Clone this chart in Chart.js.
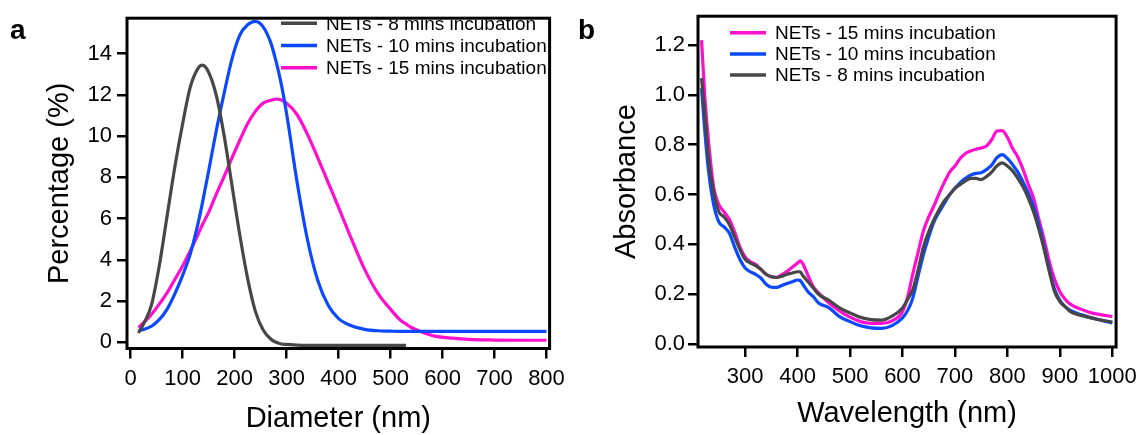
<!DOCTYPE html>
<html>
<head>
<meta charset="utf-8">
<script src="https://cdn.jsdelivr.net/npm/chart.js@4.4.0/dist/chart.umd.min.js"></script>
<style>
    body { margin: 0; background: #fff; width: 1144px; height: 435px; overflow: hidden; position: relative; font-family: "Liberation Sans", Arial, sans-serif; }
    .panel { position: absolute; top: 0; width: 572px; height: 435px; }
    .panel canvas { display: block; }
    #panelA { left: 0; }
    #panelB { left: 572px; }
    .tag { position: absolute; font-weight: bold; font-size: 28px; line-height: 1; color: #000; }
</style>
</head>
<body>
<div class="panel" id="panelA"><canvas id="chartA" width="572" height="435"></canvas></div>
<div class="panel" id="panelB"><canvas id="chartB" width="572" height="435"></canvas></div>
<div class="tag" style="left:10px; top:16px;">a</div>
<div class="tag" style="left:578px; top:16px;">b</div>
<script>
// panel a - size distribution
var diameters = [15, 25, 40, 55, 70, 85, 100, 115, 130, 138, 150, 165, 180, 195, 210, 225, 240, 255, 270, 280, 290,
    300, 320, 340, 360, 380, 400, 425, 450, 475, 500, 520, 530, 540, 560, 585, 620, 650, 700, 750, 800];
var pct8 = [0.45, 0.9, 1.8, 3.7, 6.1, 8.5, 10.6, 12.4, 13.3, 13.44, 13.1, 11.95, 10.0, 7.6, 5.2, 3.1, 1.5, 0.6, 0.15, 0.0, -0.08,
    -0.1, -0.14, -0.15, -0.15, -0.15, -0.15, -0.15, -0.15, -0.15, -0.15, -0.15, -0.15, null, null, null, null, null, null, null, null];
var pct10 = [0.57, 0.62, 0.78, 1.1, 1.6, 2.35, 3.25, 4.3, 5.8, 6.75, 8.3, 10.3, 12.1, 13.75, 14.9, 15.4, 15.57, 15.3, 14.5, 13.6, 12.5,
    11.1, 7.8, 5.0, 3.0, 1.8, 1.15, 0.8, 0.63, 0.56, 0.54, 0.53, 0.53, 0.53, 0.53, 0.53, 0.53, 0.53, 0.53, 0.53, 0.53];
var pct15 = [0.72, 0.95, 1.35, 1.85, 2.4, 3.05, 3.7, 4.45, 5.25, 5.7, 6.3, 7.2, 8.05, 8.95, 9.8, 10.6, 11.2, 11.6, 11.74, 11.8, 11.75,
    11.6, 11.05, 10.1, 8.95, 7.75, 6.55, 5.0, 3.55, 2.4, 1.6, 1.05, 0.88, 0.72, 0.5, 0.3, 0.2, 0.14, 0.11, 0.1, 0.1];
var diameterTicks = [0, 100, 200, 300, 400, 500, 600, 700, 800];
var pctTicks = [0, 2, 4, 6, 8, 10, 12, 14];

// panel b - absorbance spectra
var wavelengths = [217, 223, 230, 240, 250, 260, 270, 280, 290, 300, 310, 320, 330, 340, 350, 360, 370, 380, 390, 400,
    405, 410, 420, 430, 440, 460, 480, 500, 520, 540, 560, 580, 600, 610, 620, 630, 640, 650, 660, 670,
    680, 690, 700, 710, 720, 730, 740, 750, 760, 770, 780, 790, 800, 810, 820, 830, 840, 850, 860, 870,
    880, 890, 900, 910, 920, 940, 960, 980, 1000];
var abs15 = [1.22, 1.0, 0.82, 0.63, 0.56, 0.53, 0.5, 0.45, 0.39, 0.35, 0.33, 0.32, 0.3, 0.28, 0.27, 0.268, 0.278, 0.292, 0.308, 0.325,
    0.334, 0.322, 0.275, 0.23, 0.205, 0.165, 0.133, 0.108, 0.09, 0.083, 0.083, 0.093, 0.13, 0.19, 0.285, 0.37, 0.455, 0.51, 0.555, 0.605,
    0.65, 0.69, 0.715, 0.745, 0.765, 0.775, 0.782, 0.787, 0.795, 0.82, 0.855, 0.857, 0.83, 0.785, 0.75, 0.7, 0.64, 0.585, 0.5, 0.42,
    0.33, 0.26, 0.21, 0.18, 0.16, 0.14, 0.125, 0.117, 0.11];
var abs10 = [1.027, 0.86, 0.7, 0.56, 0.49, 0.47, 0.445, 0.39, 0.34, 0.305, 0.29, 0.28, 0.265, 0.24, 0.228, 0.227, 0.235, 0.243, 0.25, 0.257,
    0.255, 0.24, 0.21, 0.19, 0.165, 0.145, 0.11, 0.09, 0.073, 0.065, 0.063, 0.074, 0.105, 0.135, 0.187, 0.275, 0.36, 0.43, 0.49, 0.53,
    0.565, 0.6, 0.625, 0.648, 0.665, 0.678, 0.685, 0.688, 0.7, 0.718, 0.748, 0.76, 0.745, 0.72, 0.69, 0.65, 0.605, 0.55, 0.48, 0.39,
    0.3, 0.22, 0.175, 0.15, 0.135, 0.118, 0.105, 0.095, 0.085];
var abs8 = [1.067, 0.93, 0.75, 0.61, 0.53, 0.51, 0.48, 0.43, 0.38, 0.34, 0.325, 0.315, 0.3, 0.28, 0.27, 0.267, 0.272, 0.28, 0.285, 0.29,
    0.29, 0.275, 0.25, 0.225, 0.2, 0.175, 0.145, 0.125, 0.107, 0.098, 0.096, 0.112, 0.145, 0.18, 0.22, 0.3, 0.39, 0.45, 0.5, 0.54,
    0.575, 0.6, 0.625, 0.64, 0.655, 0.665, 0.665, 0.66, 0.672, 0.69, 0.715, 0.727, 0.715, 0.695, 0.665, 0.63, 0.585, 0.53, 0.46, 0.38,
    0.29, 0.21, 0.17, 0.15, 0.13, 0.115, 0.105, 0.095, 0.088];
var wavelengthTicks = [300, 400, 500, 600, 700, 800, 900, 1000];
var absTicks = [0, 0.2, 0.4, 0.6, 0.8, 1.0, 1.2];

var grey = '#474747';
var blue = '#0b48ff';
var pink = '#ff0ecf';
var fontFamily = '"Liberation Sans", Arial, sans-serif';

Chart.defaults.font.family = fontFamily;
Chart.defaults.color = '#000';

// black box round the plot area
var framePlugin = {
    id: 'frame',
    afterDatasetsDraw: function(chart) {
        var a = chart.chartArea;
        var ctx = chart.ctx;
        ctx.save();
        ctx.strokeStyle = '#000';
        ctx.lineWidth = 3;
        ctx.strokeRect(a.left, a.top, a.right - a.left, a.bottom - a.top);
        ctx.restore();
    }
};

// legend drawn inside the frame
var insideLegend = {
    id: 'insideLegend',
    afterDraw: function(chart, args, opts) {
        var ctx = chart.ctx;
        ctx.save();
        ctx.font = '19px ' + fontFamily;
        ctx.textBaseline = 'middle';
        ctx.textAlign = 'left';
        for (var i = 0; i < opts.order.length; i++) {
            var ds = chart.data.datasets[opts.order[i]];
            var y = opts.y + i * opts.gap;
            ctx.strokeStyle = ds.borderColor;
            ctx.lineWidth = 3.5;
            ctx.beginPath();
            ctx.moveTo(opts.x, y);
            ctx.lineTo(opts.x + 36, y);
            ctx.stroke();
            ctx.fillStyle = '#000';
            ctx.fillText(ds.label, opts.x + 45, y + 1);
        }
        ctx.restore();
    }
};

function toPoints(xs, ys) {
    return xs.map(function(x, i) { return { x: x, y: ys[i] }; });
}

function line(label, xs, ys, color) {
    return {
        label: label,
        data: toPoints(xs, ys),
        borderColor: color,
        backgroundColor: color,
        borderWidth: 3.2,
        pointRadius: 0,
        fill: false,
        cubicInterpolationMode: 'monotone'
    };
}

function tickMarks() {
    return { display: true, drawOnChartArea: false, drawTicks: true, tickLength: 10, lineWidth: 2.5, color: '#000' };
}

function makeChart(id, cfg) {
    return new Chart(document.getElementById(id).getContext('2d'), {
        type: 'line',
        data: { datasets: cfg.datasets },
        options: {
            responsive: false,
            animation: false,
            layout: { padding: cfg.padding },
            plugins: {
                legend: { display: false },
                tooltip: { enabled: false },
                insideLegend: cfg.legend
            },
            scales: {
                x: {
                    type: 'linear',
                    min: cfg.xMin,
                    max: cfg.xMax,
                    afterBuildTicks: function(s) { s.ticks = cfg.xTicks.map(function(v) { return { value: v }; }); },
                    afterFit: function(s) { s.height = cfg.xHeight; },
                    grid: tickMarks(),
                    border: { display: false },
                    ticks: { color: '#000', font: { size: 22 }, padding: 7, maxRotation: 0, autoSkip: false,
                        callback: function(v) { return String(v); } },
                    title: { display: true, text: cfg.xTitle, color: '#000', font: { size: 29, lineHeight: 1 }, padding: { top: 0, bottom: cfg.xTitlePad } }
                },
                y: {
                    type: 'linear',
                    min: cfg.yMin,
                    max: cfg.yMax,
                    afterBuildTicks: function(s) { s.ticks = cfg.yTicks.map(function(v) { return { value: v }; }); },
                    afterFit: function(s) { s.width = cfg.yWidth; },
                    grid: tickMarks(),
                    border: { display: false },
                    ticks: { color: '#000', font: { size: 22 }, padding: cfg.yTickPad, callback: cfg.yFormat },
                    title: { display: true, text: cfg.yTitle, color: '#000', font: { size: 29, lineHeight: 1 }, padding: { top: cfg.yTitlePad, bottom: 0 } }
                }
            }
        },
        plugins: [framePlugin, insideLegend]
    });
}

makeChart('chartA', {
    datasets: [
        line('NETs - 8 mins incubation', diameters, pct8, grey),
        line('NETs - 10 mins incubation', diameters, pct10, blue),
        line('NETs - 15 mins incubation', diameters, pct15, pink)
    ],
    padding: { top: 13, right: 22, bottom: 0, left: 0 },
    xMin: -7, xMax: 806, xTicks: diameterTicks, xHeight: 86.5,
    xTitle: 'Diameter (nm)', xTitlePad: 1.5,
    yMin: -0.3, yMax: 15.72, yTicks: pctTicks, yWidth: 127, yTickPad: 5,
    yTitle: 'Percentage (%)', yTitlePad: 45.5,
    yFormat: function(v) { return String(v); },
    legend: { x: 281, y: 23.3, gap: 22.2, order: [0, 1, 2] }
});

makeChart('chartB', {
    datasets: [
        line('NETs - 8 mins incubation', wavelengths, abs8, grey),
        line('NETs - 10 mins incubation', wavelengths, abs10, blue),
        line('NETs - 15 mins incubation', wavelengths, abs15, pink)
    ],
    padding: { top: 15, right: 24.5, bottom: 0, left: 0 },
    xMin: 210.2, xMax: 1007.2, xTicks: wavelengthTicks, xHeight: 88,
    xTitle: 'Wavelength (nm)', xTitlePad: 6.5,
    yMin: -0.012, yMax: 1.316, yTicks: absTicks, yWidth: 126, yTickPad: 3,
    yTitle: 'Absorbance', yTitlePad: 40.5,
    yFormat: function(v) { return v.toFixed(1); },
    legend: { x: 158, y: 32.7, gap: 21.2, order: [2, 1, 0] }
});
</script>
</body>
</html>
